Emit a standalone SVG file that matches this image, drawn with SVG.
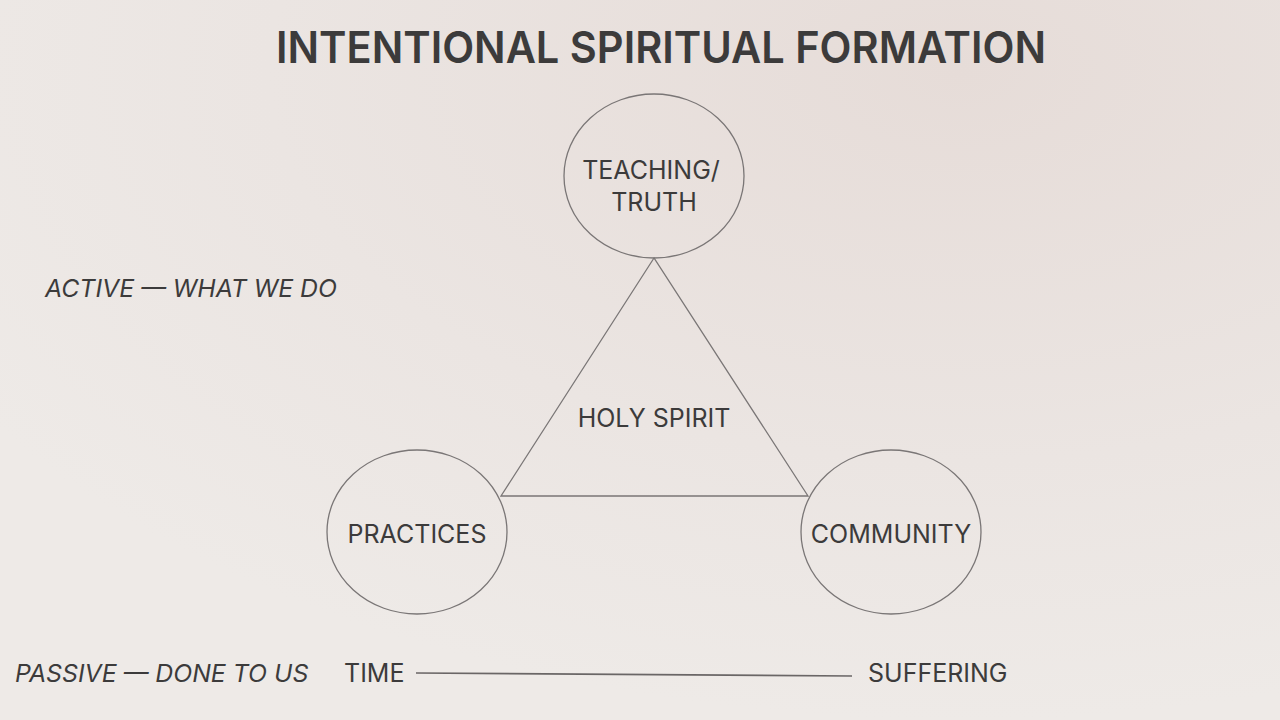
<svg xmlns="http://www.w3.org/2000/svg" width="1280" height="720" viewBox="0 0 1280 720">
<defs>
<radialGradient id="bg" cx="0.75" cy="0.1" r="0.9">
<stop offset="0" stop-color="#e6dcd8"/>
<stop offset="0.6" stop-color="#ebe5e2"/>
<stop offset="1" stop-color="#eeeae7"/>
</radialGradient>
<style>
.t{font-family:Inter,"Liberation Sans",sans-serif;fill:#3c3b3b}
.lbl{font-size:25px;text-anchor:middle}
.side{font-size:24.8px;font-style:italic}
.node{fill:none;stroke:#7a7676;stroke-width:1.3}
.con{fill:none;stroke:#7a7676;stroke-width:1.3}
</style>
</defs>
<rect width="1280" height="720" fill="url(#bg)"/>
<text class="t" x="276" y="63" font-size="44" font-weight="600" textLength="770" lengthAdjust="spacingAndGlyphs">INTENTIONAL SPIRITUAL FORMATION</text>
<g id="connectors">
<polygon class="con" points="654,258 501,496 808,496"/>
<line x1="416" y1="673" x2="852" y2="676" stroke="#6a6666" stroke-width="1.6"/>
</g>
<g id="teaching">
<ellipse class="node" cx="654" cy="176" rx="90" ry="82"/>
<text class="t lbl" x="651" y="179">TEACHING/</text>
<text class="t lbl" x="654" y="211">TRUTH</text>
</g>
<g id="holyspirit">
<text class="t lbl" x="654" y="427">HOLY SPIRIT</text>
</g>
<g id="practices">
<ellipse class="node" cx="417" cy="532" rx="90" ry="82"/>
<text class="t lbl" x="417" y="543">PRACTICES</text>
</g>
<g id="community">
<ellipse class="node" cx="891" cy="532" rx="90" ry="82"/>
<text class="t lbl" x="891" y="543">COMMUNITY</text>
</g>
<g id="active">
<text class="t side" x="45" y="297">ACTIVE — WHAT WE DO</text>
</g>
<g id="passive">
<text class="t side" x="15" y="682">PASSIVE — DONE TO US</text>
</g>
<g id="time">
<text class="t" x="344" y="682" font-size="25">TIME</text>
</g>
<g id="suffering">
<text class="t" x="868" y="682" font-size="25">SUFFERING</text>
</g>
</svg>
